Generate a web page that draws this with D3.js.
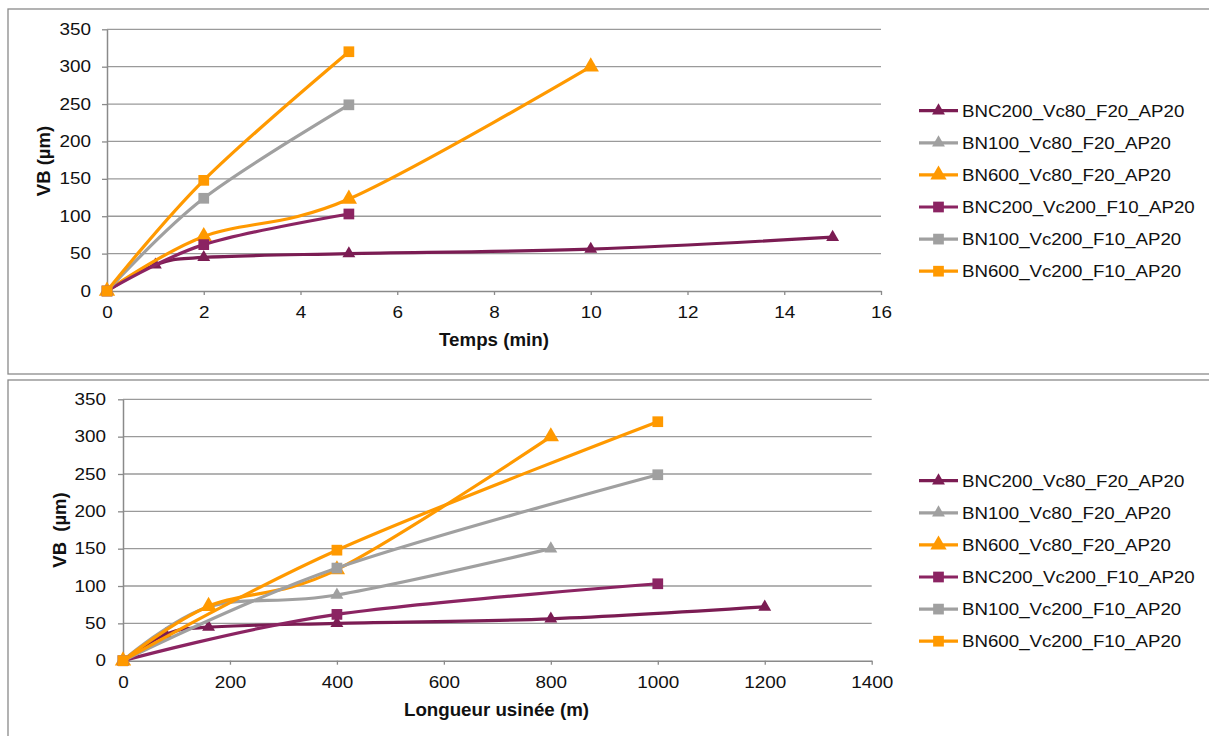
<!DOCTYPE html>
<html><head><meta charset="utf-8">
<script src="https://cdn.jsdelivr.net/npm/d3@7"></script>
<style>
body{margin:0;background:#fff;}
svg text{font-family:"Liberation Sans",Arial,sans-serif;fill:#111;}
</style></head>
<body>
<svg id="c" width="1209" height="736"></svg>
<script>
// ---- data ----
const seriesNames = ["BNC200_Vc80_F20_AP20","BN100_Vc80_F20_AP20","BN600_Vc80_F20_AP20",
  "BNC200_Vc200_F10_AP20","BN100_Vc200_F10_AP20","BN600_Vc200_F10_AP20"];
const seriesColors = ["#7b1c53","#a0a0a0","#ff9900","#8b2462","#a0a0a0","#ff9900"];
const seriesMarkers = ["triangle","triangle","triangle","square","square","square"];

// Top chart: time (min)
const topTime1 = [0,1,2,5,10,15];  const topVB1 = [0,35,45,50,56,72];
const topTime2 = [];               const topVB2 = [];
const topTime3 = [0,2,5,10];       const topVB3 = [0,73,123,300];
const topTime4 = [0,2,5];          const topVB4 = [0,62,103];
const topTime5 = [0,2,5];          const topVB5 = [0,124,249];
const topTime6 = [0,2,5];          const topVB6 = [0,148,320];

// Bottom chart: machined length (m)
const botLen1 = [0,80,160,400,800,1200]; const botVB1 = [0,35,45,50,56,72];
const botLen2 = [0,160,400,800];         const botVB2 = [0,72,88,150];
const botLen3 = [0,160,400,800];         const botVB3 = [0,73,122,300];
const botLen4 = [0,400,1000];            const botVB4 = [0,62,103];
const botLen5 = [0,400,1000];            const botVB5 = [0,124,249];
const botLen6 = [0,400,1000];            const botVB6 = [0,148,320];

const yTicks = [0,50,100,150,200,250,300,350];
const topXTicks = [0,2,4,6,8,10,12,14,16];
const botXTicks = [0,200,400,600,800,1000,1200,1400];

const zip = (xs, ys) => xs.map((x,i)=>({x, y: ys[i]}));
const topSeries = [zip(topTime1,topVB1),zip(topTime2,topVB2),zip(topTime3,topVB3),
  zip(topTime4,topVB4),zip(topTime5,topVB5),zip(topTime6,topVB6)];
const botSeries = [zip(botLen1,botVB1),zip(botLen2,botVB2),zip(botLen3,botVB3),
  zip(botLen4,botVB4),zip(botLen5,botVB5),zip(botLen6,botVB6)];

const svg = d3.select("#c");

function stretch(sel, sx){
  sel.each(function(){
    const t = d3.select(this);
    const x = +(t.attr("x") || 0);
    t.attr("transform", `translate(${x*(1-sx)},0) scale(${sx},1)`);
  });
}

function markerPath(kind, color){
  if (kind === "square") return d3.symbol(d3.symbolSquare, 115)();
  return d3.symbol(d3.symbolTriangle, color === "#ff9900" ? 115 : 72)();
}

function drawChart(cfg){
  const g = svg.append("g");
  // frame
  g.append("rect").attr("x",cfg.frame[0]).attr("y",cfg.frame[1])
    .attr("width",cfg.frame[2]).attr("height",cfg.frame[3])
    .attr("fill","none").attr("stroke","#8a8a8a").attr("stroke-width",1.3);

  const x = d3.scaleLinear().domain(cfg.xDomain).range(cfg.xRange);
  const y = d3.scaleLinear().domain([0,350]).range(cfg.yRange);

  // gridlines
  g.append("g").selectAll("line").data(yTicks.filter(d=>d>0)).join("line")
    .attr("x1",cfg.xRange[0]).attr("x2",cfg.xRange[1])
    .attr("y1",d=>y(d)).attr("y2",d=>y(d))
    .attr("stroke","#9a9a9a").attr("stroke-width",1.3);

  // y axis
  const ya = g.append("g").attr("transform",`translate(${cfg.xRange[0]},0)`)
    .call(d3.axisLeft(y).tickValues(yTicks).tickFormat(d3.format("d")).tickSize(5).tickPadding(cfg.yPad).tickSizeOuter(0));
  ya.select(".domain").attr("stroke","#8a8a8a").attr("stroke-width",1.5);
  ya.selectAll(".tick line").attr("stroke","#8a8a8a").attr("stroke-width",1.3);
  ya.selectAll("text").attr("font-size",16).attr("font-family","Liberation Sans, Arial").attr("fill","#111");
  stretch(ya.selectAll("text"),1.18);

  // x axis
  const xa = g.append("g").attr("transform",`translate(0,${cfg.yRange[0]})`)
    .call(d3.axisBottom(x).tickValues(cfg.xTicks).tickFormat(d3.format("d")).tickSize(4).tickPadding(12).tickSizeOuter(0));
  xa.select(".domain").attr("stroke","#8a8a8a").attr("stroke-width",1.5);
  xa.selectAll(".tick line").attr("stroke","#8a8a8a").attr("stroke-width",1.3);
  xa.selectAll("text").attr("font-size",16).attr("font-family","Liberation Sans, Arial").attr("fill","#111");
  stretch(xa.selectAll("text"),1.18);

  // titles
  const xt = g.append("text").attr("x",cfg.xTitlePos[0]).attr("y",cfg.xTitlePos[1])
    .attr("text-anchor","middle").attr("font-weight","bold").attr("font-size",17.5)
    .text(cfg.xTitle);
  stretch(xt,1.07);
  g.append("text").attr("transform",`translate(${cfg.yTitlePos[0]},${cfg.yTitlePos[1]}) rotate(-90)`)
    .attr("text-anchor","middle").attr("font-weight","bold").attr("font-size",18.5)
    .style("white-space","pre").text(cfg.yTitle);

  // lines
  const line = d3.line().x(d=>x(d.x)).y(d=>y(d.y)).curve(d3.curveCatmullRom.alpha(0));
  cfg.series.forEach((s,i)=>{
    if (!s.length) return;
    g.append("path").datum(s).attr("d",line).attr("fill","none")
      .attr("stroke",seriesColors[i]).attr("stroke-width",3.2)
      .attr("stroke-linejoin","round").attr("stroke-linecap","round");
    g.append("g").selectAll("path").data(s).join("path")
      .attr("transform",d=>`translate(${x(d.x)},${y(d.y)})`)
      .attr("d",markerPath(seriesMarkers[i],seriesColors[i]))
      .attr("fill",seriesColors[i]);
  });

  // legend
  const lg = g.append("g");
  seriesNames.forEach((name,i)=>{
    const ly = cfg.legendY + i*32.1;
    lg.append("line").attr("x1",919).attr("x2",958).attr("y1",ly).attr("y2",ly)
      .attr("stroke",seriesColors[i]).attr("stroke-width",3.2);
    lg.append("path").attr("transform",`translate(938.5,${ly})`)
      .attr("d",markerPath(seriesMarkers[i],seriesColors[i])).attr("fill",seriesColors[i]);
    const t = lg.append("text").attr("x",962).attr("y",ly).attr("dy","0.36em")
      .attr("font-size",17).text(name);
    stretch(t,1.1);
  });
}

drawChart({
  frame:[8,9,1220,365],
  xDomain:[0,16], xRange:[107,881], yRange:[291,29.3], xTicks:topXTicks, yPad:11,
  xTitle:"Temps (min)", xTitlePos:[494,346], yTitle:"VB (µm)", yTitlePos:[50,161],
  series:topSeries, legendY:110.7
});
drawChart({
  frame:[8,380,1220,380],
  xDomain:[0,1400], xRange:[123,871.7], yRange:[660.7,399.3], xTicks:botXTicks, yPad:12,
  xTitle:"Longueur usinée (m)", xTitlePos:[496.5,716], yTitle:"VB  (µm)", yTitlePos:[66,530],
  series:botSeries, legendY:480.7
});
</script>
</body></html>
